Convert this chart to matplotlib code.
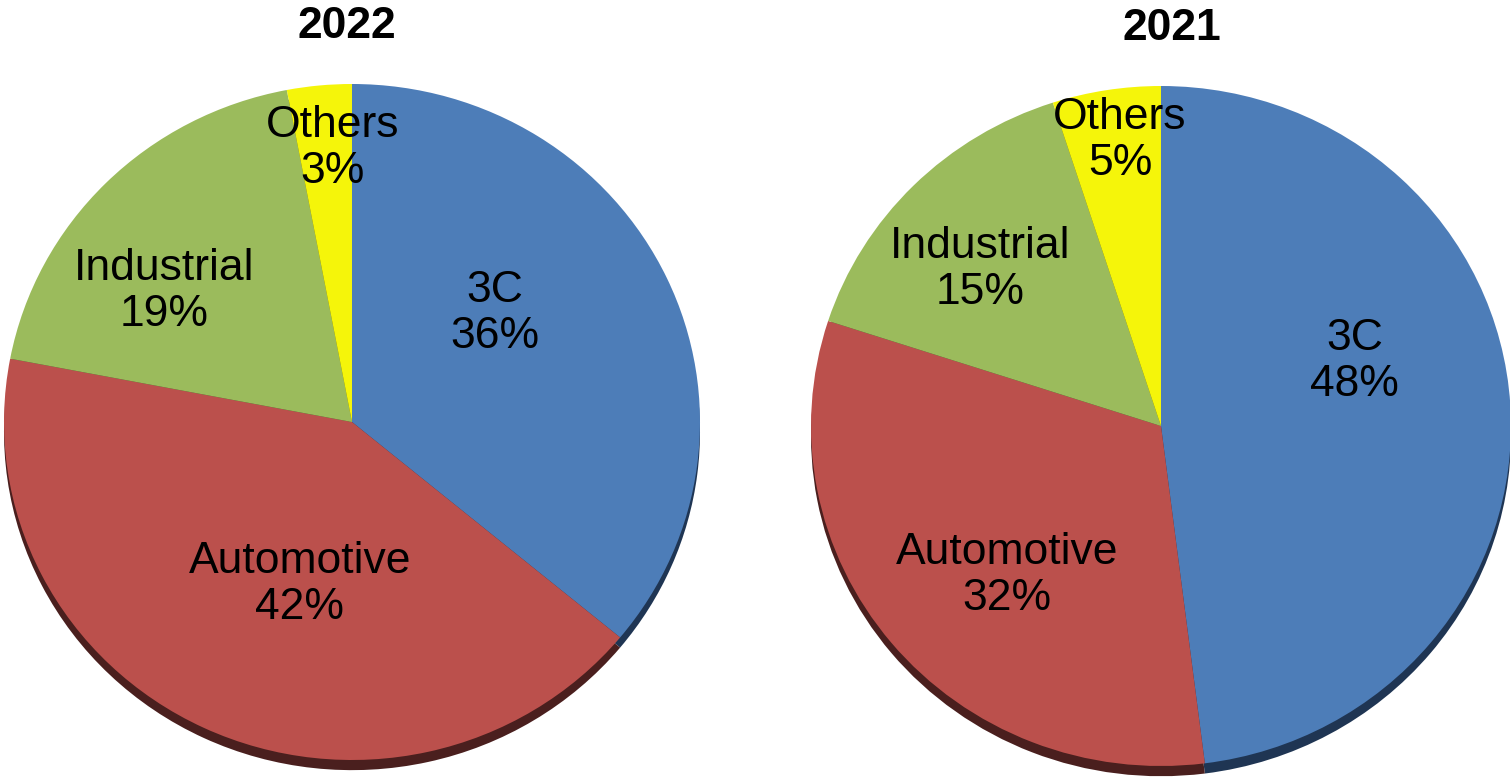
import matplotlib.pyplot as plt

plt.rcParams['font.family'] = ['Liberation Sans', 'DejaVu Sans']

categories = ["3C", "Automotive", "Industrial", "Others"]
share_2022 = [36, 42, 19, 3]
share_2021 = [48, 32, 15, 5]

colors = ["#4d7db8", "#bb504c", "#9bbb5c", "#f5f50a"]
shadow_colors = ["#1f3553", "#4a1f1e", "#3c4a24", "#6a6a08"]

# label spots (fraction of radius)
label_pos_2022 = [(0.41, 0.32), (-0.15, -0.48), (-0.54, 0.385), (-0.057, 0.81)]
label_pos_2021 = [(0.554, 0.19), (-0.44, -0.44), (-0.517, 0.46), (-0.117, 0.84)]


def draw_pie(ax, values, label_pos, title, title_xy):
    # dark copy shifted down gives the 3d rim
    ax.pie(values, colors=shadow_colors, startangle=90, counterclock=False,
           center=(0, -0.03), radius=1, wedgeprops=dict(linewidth=0))
    ax.pie(values, colors=colors, startangle=90, counterclock=False,
           radius=1, wedgeprops=dict(linewidth=0))
    ax.set_aspect('auto')
    ax.set_xlim(-1, 1)
    ax.set_ylim(-1, 1)
    for cat, val, (x, y) in zip(categories, values, label_pos):
        ax.text(x, y, f"{cat}\n{val}%", ha='center', va='center',
                fontsize=32, linespacing=1.15, color='black')
    ax.text(title_xy[0], title_xy[1], title, ha='center', va='center',
            fontsize=32, fontweight='bold', clip_on=False)
    ax.axis('off')


fig = plt.figure(figsize=(15.10, 7.77), dpi=100)
W, H = 1510, 777

ax1 = fig.add_axes([4 / W, (H - 760) / H, 696 / W, 676 / H])
draw_pie(ax1, share_2022, label_pos_2022, "2022", (-0.015, 1.17))

ax2 = fig.add_axes([811 / W, (H - 766) / H, 700 / W, 680 / H])
draw_pie(ax2, share_2021, label_pos_2021, "2021", (0.03, 1.17))

fig.savefig("out.png", dpi=100)
